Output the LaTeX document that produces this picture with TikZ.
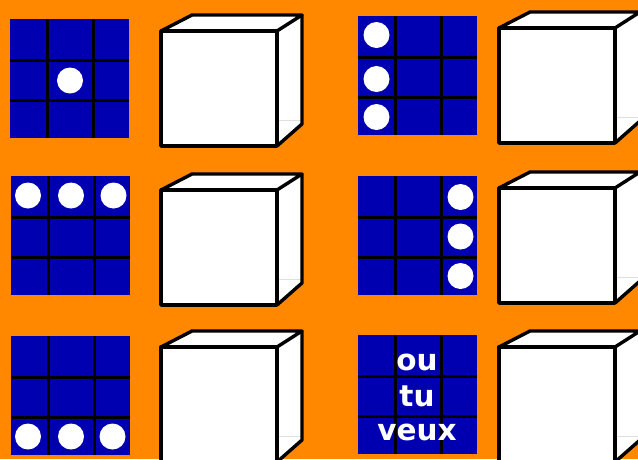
\documentclass[tikz,border=0pt]{standalone}
\usepackage{fontspec}
\newfontfamily\djsans{DejaVu Sans}
\definecolor{bgorange}{RGB}{255,136,0}
\definecolor{gridblue}{RGB}{0,0,176}
\tikzset{
  gridline/.style={black, line width=3pt},
  cubeline/.style={black, line width=3.4pt, line join=round},
  gridtext/.style={text=white, font=\djsans\bfseries\fontsize{29.5}{34}\selectfont, anchor=base, inner sep=0pt},
  pics/cube/.style={code={
    \fill[white] (0,0) -- (31,-16) -- (141,-16) -- (141,93) -- (116,115) -- (0,115) -- cycle;
    \draw[gray!25, line width=1pt] (116,89) -- (141,89);
    \draw[cubeline] (0,0) rectangle (116,115);
    \draw[cubeline] (0,0) -- (31,-16) -- (141,-16) -- (116,0);
    \draw[cubeline] (141,-16) -- (141,93) -- (116,115);
  }},
  pics/grid/.style={code={
    \fill[gridblue] (0,0) rectangle (119,119);
    \draw[gridline] (37,0) -- (37,119) (83,0) -- (83,119) (0,41) -- (119,41) (0,81) -- (119,81);
  }},
}
\newcommand{\gdot}[2]{\fill[white] (#1,#2) circle[radius=13pt];}
\begin{document}
\begin{tikzpicture}[x=1pt,y=-1pt]
\useasboundingbox (0,0) rectangle (638,459);
\fill[bgorange] (0,0) rectangle (638,459);
% grids
\pic at (10,19) {grid};
\pic at (358,16) {grid};
\pic at (11,176) {grid};
\pic at (358,176) {grid};
\pic at (11,336) {grid};
\pic at (358,335) {grid};
% cubes
\pic at (161,31) {cube};
\pic at (499,28) {cube};
\pic at (161,190) {cube};
\pic at (499,188) {cube};
\pic at (161,347) {cube};
\pic at (499,347) {cube};
% dots
\gdot{70}{80.5}
\gdot{376.5}{35}\gdot{376.5}{79}\gdot{376.5}{117}
\gdot{28}{195.5}\gdot{71}{195.5}\gdot{113.5}{195.5}
\gdot{460.5}{197}\gdot{460.5}{236.5}\gdot{460.5}{276}
\gdot{28}{436.5}\gdot{71}{436.5}\gdot{112.5}{436.5}
% text
\node[gridtext] (ou) at (417,370.5) {ou};
\node[gridtext] (tu) at (417,406) {tu};
\node[gridtext] (veux) at (417,440.5) {veux};
\end{tikzpicture}
\end{document}
